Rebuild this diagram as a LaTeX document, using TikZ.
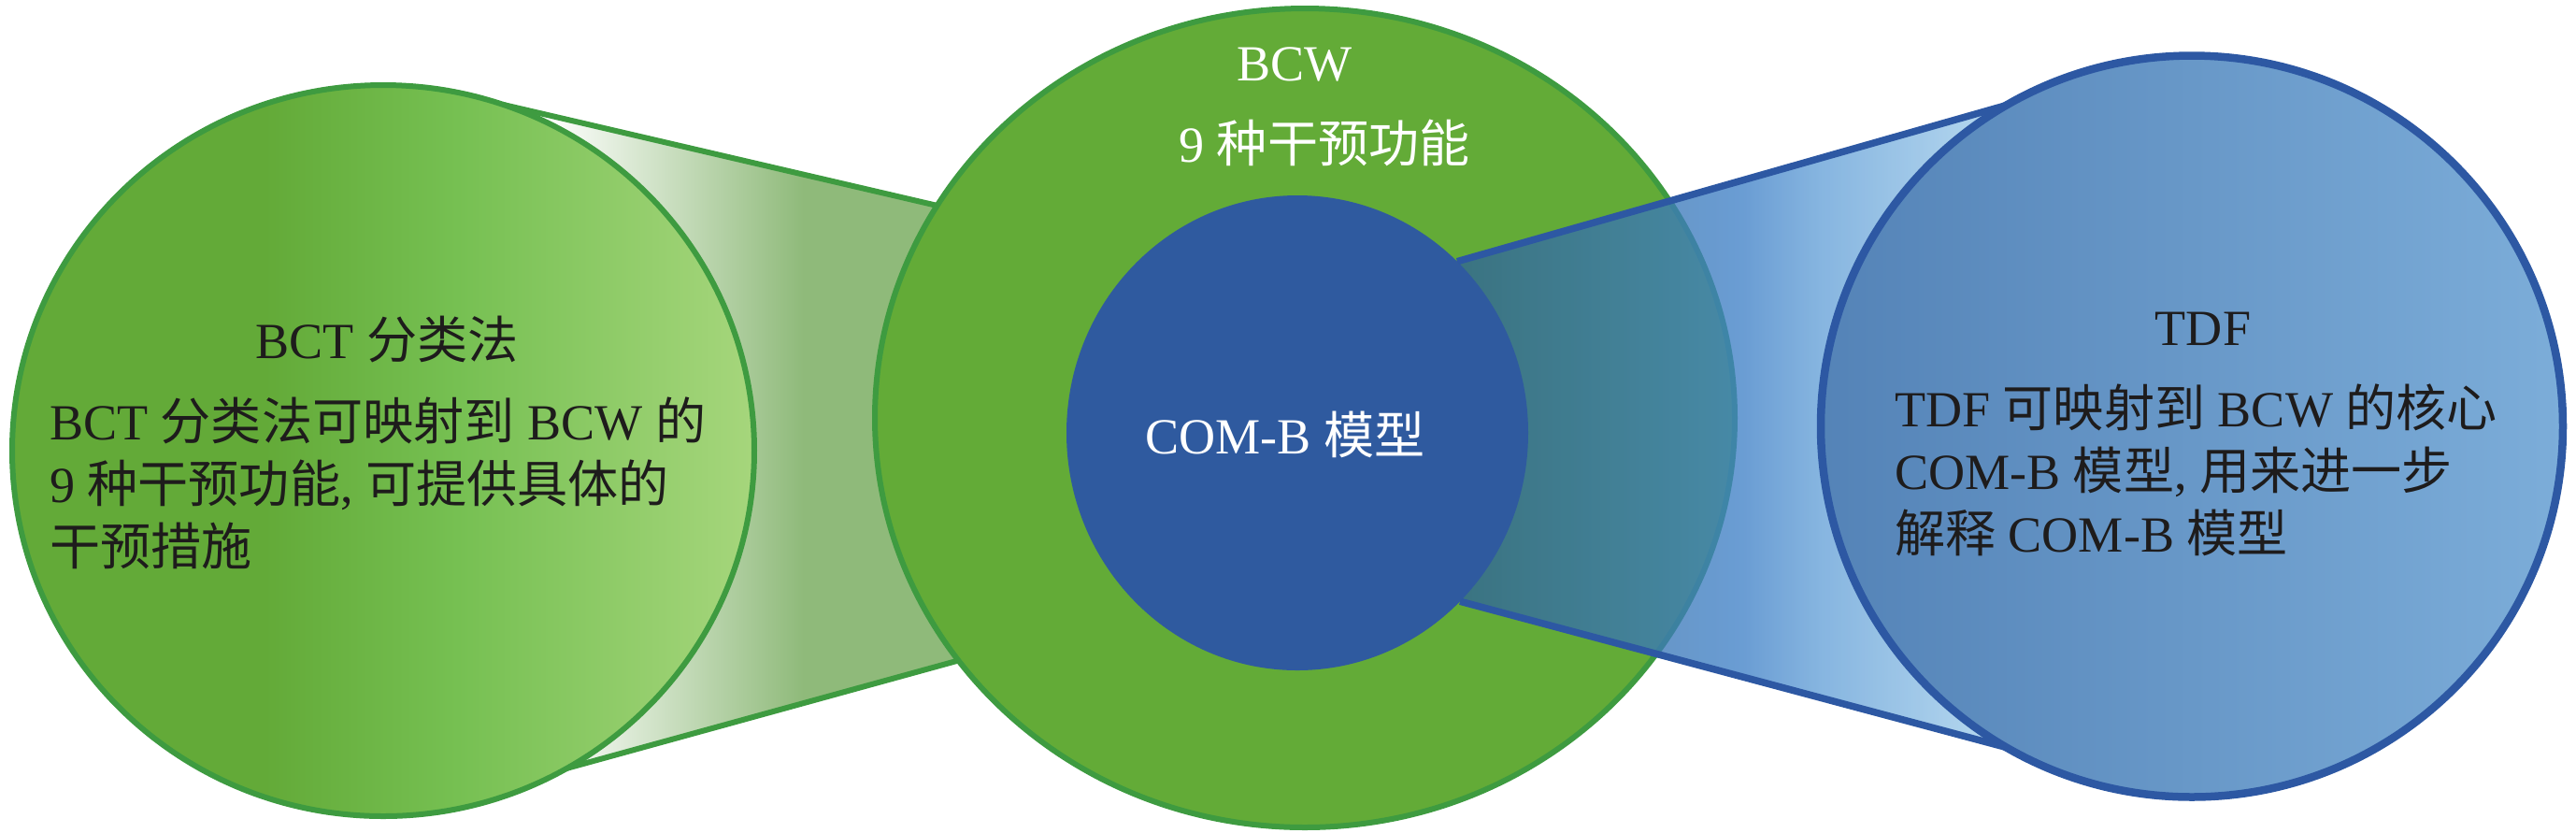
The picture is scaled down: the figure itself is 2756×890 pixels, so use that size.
\documentclass[tikz,border=0pt]{standalone}
\usepackage{fontspec}
\setmainfont{Liberation Serif}
\newfontfamily\zhfont{Noto Sans CJK SC}
\newcommand{\zh}[1]{{\zhfont #1}}
\usepackage{tikz}
\usetikzlibrary{shapes.geometric, positioning}

\pgfdeclarelayer{back}
\pgfdeclarelayer{front}
\pgfsetlayers{back,main,front}

\definecolor{ringgreen}{RGB}{99,171,55}
\definecolor{edgegreen}{RGB}{62,155,64}
\definecolor{coreblue}{RGB}{47,90,159}
\definecolor{edgeblue}{RGB}{45,88,163}
\definecolor{inkdark}{RGB}{30,28,28}
\definecolor{bctA}{RGB}{99,170,56}
\definecolor{bctB}{RGB}{118,192,82}
\definecolor{bctC}{RGB}{166,214,124}
\definecolor{tdfA}{RGB}{84,131,183}
\definecolor{tdfB}{RGB}{124,173,217}
\definecolor{lfunA}{RGB}{143,186,122}
\definecolor{rfunA}{RGB}{48,100,150}
\definecolor{rfunB}{RGB}{64,129,199}
\definecolor{rfunC}{RGB}{100,160,215}
\definecolor{rfunD}{RGB}{165,208,236}

\pgfdeclarehorizontalshading{bctshade}{100bp}{color(0bp)=(bctA); color(42bp)=(bctA); color(55bp)=(bctB); color(75bp)=(bctC); color(100bp)=(bctC)}
\pgfdeclarehorizontalshading{tdfshade}{100bp}{color(0bp)=(tdfA); color(25bp)=(tdfA); color(75bp)=(tdfB); color(100bp)=(tdfB)}
\pgfdeclarehorizontalshading{bctfunnel}{100bp}{color(0bp)=(white); color(30bp)=(white); color(58bp)=(lfunA); color(100bp)=(lfunA)}
\pgfdeclarehorizontalshading{tdffunnel}{100bp}{color(0bp)=(rfunA); color(25bp)=(rfunA); color(51bp)=(rfunB); color(58bp)=(rfunC); color(75bp)=(rfunD); color(100bp)=(rfunD)}

\begin{document}
\begin{tikzpicture}[x=0.1mm, y=-0.1mm, line join=round]
        \tikzset{label text/.style={font=\fontsize{15.4}{19}\selectfont, inner sep=0pt, outer sep=0pt, text=inkdark}}
        % the four circles
        \tikzstyle{bubble}=[ellipse, inner sep=0pt, outer sep=0pt, line width=0.6mm]
        \useasboundingbox (0,0) rectangle (2756,890);

        \node[bubble, draw=edgegreen, shade, shading=bctshade, minimum width=79.4mm, minimum height=78.2mm] (bct) at (410,482) {};
        \node[bubble, draw=edgegreen, fill=ringgreen, minimum width=92mm, minimum height=87.6mm] (bcw) at (1396,447) {};
        \begin{pgfonlayer}{front}
        \node[bubble, fill=coreblue, minimum width=49.4mm, minimum height=50.8mm] (com) at (1388,463) {};
        \node[bubble, draw=edgeblue, line width=0.85mm, shade, shading=tdfshade, minimum width=79.4mm, minimum height=79.3mm] (tdf) at (2345,456) {};

        \node[label text, anchor=base] (bcttitle) at (414,383) {BCT \zh{分类法}};
        \node[label text, align=left, anchor=base west] (bctbody) at (53,604)
            {BCT \zh{分类法可映射到} BCW \zh{的}\\9 \zh{种干预功能}, \zh{可提供具体的}\\\zh{干预措施}};
        \node[label text, text=white, anchor=base] (bcwtitle) at (1385,86) {BCW};
        \node[label text, text=white, anchor=base] (bcwbody) at (1417,173) {9 \zh{种干预功能}};
        \node[label text, text=white, anchor=base] (comtitle) at (1375,485) {COM-B \zh{模型}};
        \node[label text, anchor=base] (tdftitle) at (2357,369) {TDF};
        \node[label text, align=left, anchor=base west] (tdfbody) at (2027,590)
            {TDF \zh{可映射到} BCW \zh{的核心}\\COM-B \zh{模型}, \zh{用来进一步}\\\zh{解释} COM-B \zh{模型}};
        \end{pgfonlayer}

        \begin{pgfonlayer}{back}
        \shade[shading=bctfunnel] (bct.71) -- (bcw.150) -- (bcw.215) -- (bct.300) -- cycle;
        \draw[edgegreen, line width=0.6mm] (bct.71) -- (bcw.150) (bct.300) -- (bcw.215);
        \end{pgfonlayer}

        \shade[shading=tdffunnel, fill opacity=0.78] (com.47) -- (tdf.120) -- (tdf.240) -- (com.314) -- cycle;
        \draw[edgeblue, line width=0.75mm] (com.47) -- (tdf.120) (com.314) -- (tdf.240);
\end{tikzpicture}
\end{document}
